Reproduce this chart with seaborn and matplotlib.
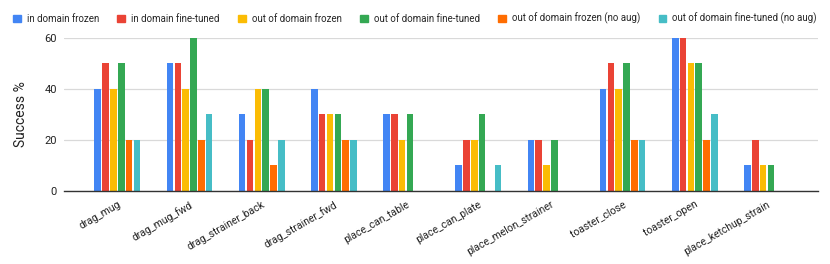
import matplotlib
matplotlib.use('Agg')
import matplotlib.pyplot as plt
import seaborn as sns
import pandas as pd

# Задачи и серии
tasks = ['drag_mug', 'drag_mug_fwd', 'drag_strainer_back', 'drag_strainer_fwd',
         'place_can_table', 'place_can_plate', 'place_melon_strainer',
         'toaster_close', 'toaster_open', 'place_ketchup_strain']
series = ['in domain frozen', 'in domain fine-tuned', 'out of domain frozen',
          'out of domain fine-tuned', 'out of domain frozen (no aug)',
          'out of domain fine-tuned (no aug)']
colors = ['#4285F4', '#EA4335', '#FBBC04', '#34A853', '#FF6D01', '#46BDC6']

in_frozen = [40, 50, 30, 40, 30, 10, 20, 40, 60, 10]
in_tuned = [50, 50, 20, 30, 30, 20, 20, 50, 60, 20]
out_frozen = [40, 40, 40, 30, 20, 20, 10, 40, 50, 10]
out_tuned = [50, 60, 40, 30, 30, 30, 20, 50, 50, 10]
out_frozen_noaug = [20, 20, 10, 20, 0, 0, 0, 20, 20, 0]
out_tuned_noaug = [20, 30, 20, 20, 0, 10, 0, 20, 30, 0]

values = [in_frozen, in_tuned, out_frozen, out_tuned, out_frozen_noaug, out_tuned_noaug]
rows = []
for name, vals in zip(series, values):
    for t, v in zip(tasks, vals):
        rows.append({'task': t, 'series': name, 'value': v})
df = pd.DataFrame(rows)

sns.set_style('white')
plt.rcParams['font.family'] = ['Roboto', 'DejaVu Sans']

fig = plt.figure(figsize=(8.3, 2.64), dpi=100)
ax = fig.add_axes([0.077, 0.277, 0.908, 0.579])

sns.barplot(data=df, x='task', y='value', hue='series', palette=colors,
            width=0.65, ax=ax, legend=False, saturation=1)

# небольшие промежутки между столбцами
for p in ax.patches:
    w = p.get_width()
    p.set_x(p.get_x() + w * 0.08)
    p.set_width(w * 0.84)
    p.set_linewidth(0)

ax.set_ylim(0, 60)
ax.set_xlim(-0.74, len(tasks) - 0.3)
ax.set_yticks([0, 20, 40, 60])
ax.yaxis.grid(True, color='#d9d9d9', linewidth=0.9)
ax.set_axisbelow(True)
for s in ['left', 'right', 'top']:
    ax.spines[s].set_visible(False)
ax.spines['bottom'].set_color('#333333')
ax.spines['bottom'].set_linewidth(1.0)
ax.spines['bottom'].set_zorder(5)
ax.tick_params(axis='both', length=0, labelsize=8, colors='#222222')
ax.tick_params(axis='y', pad=5)
ax.tick_params(axis='x', pad=6)
ax.set_xlabel('')
ax.set_ylabel('Success %', fontsize=10, color='#222222', labelpad=12)
plt.setp(ax.get_xticklabels(), rotation=30, ha='right', rotation_mode='anchor',
         fontsize=7.5)

handles = [plt.Rectangle((0, 0), 1, 1, color=c) for c in colors]
fig.legend(handles, series, loc='center', bbox_to_anchor=(0.5, 0.93), ncol=6,
           frameon=False, fontsize=7, handlelength=0.8, handleheight=0.8,
           columnspacing=1.9, handletextpad=0.6)

fig.savefig('out.png', dpi=100)
